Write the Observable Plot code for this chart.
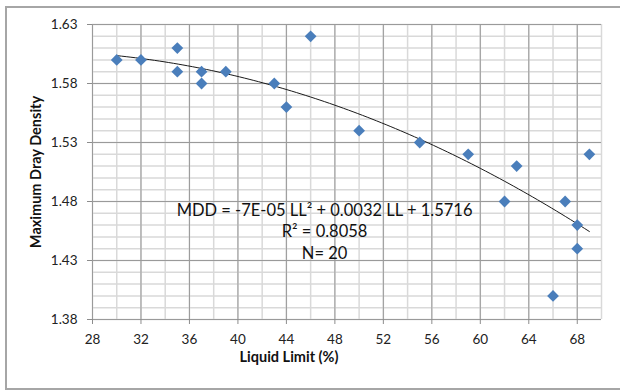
<!DOCTYPE html>
<html><head><meta charset="utf-8">
<script src="https://cdn.jsdelivr.net/npm/d3@7"></script>
<script src="https://cdn.jsdelivr.net/npm/@observablehq/plot@0.6"></script>
<style>
body{margin:0;background:#fff;}
#wrap{position:relative;width:620px;height:390px;overflow:hidden;}
#chart{position:absolute;left:0;top:0;}
#border{position:absolute;left:5px;top:6px;width:640px;height:384px;border:2px solid #a6a6a6;box-sizing:border-box;pointer-events:none;}
</style></head><body>
<div id="wrap"><div id="chart"></div><div id="border"></div></div>
<script>
// Data
const liquidLimit   = [30, 32, 35, 35, 37, 37, 39, 43, 44, 46, 50, 55, 59, 62, 63, 66, 67, 68, 68, 69];
const maxDryDensity = [1.60, 1.60, 1.61, 1.59, 1.59, 1.58, 1.59, 1.58, 1.56, 1.62, 1.54, 1.53, 1.52, 1.48, 1.51, 1.40, 1.48, 1.46, 1.44, 1.52];
const xTicks = [28, 32, 36, 40, 44, 48, 52, 56, 60, 64, 68];
const yTicks = [1.38, 1.43, 1.48, 1.53, 1.58, 1.63];
const xMinor = [28, 30, 32, 34, 36, 38, 40, 42, 44, 46, 48, 50, 52, 54, 56, 58, 60, 62, 64, 66, 68, 70];
const yMinor = [1.38,1.39,1.40,1.41,1.42,1.43,1.44,1.45,1.46,1.47,1.48,1.49,1.50,1.51,1.52,1.53,1.54,1.55,1.56,1.57,1.58,1.59,1.60,1.61,1.62,1.63];
const annotation = ["MDD = -7E-05 LL\u00B2 + 0.0032 LL + 1.5716", "R\u00B2 = 0.8058", "N= 20"];
const xTitle = "Liquid Limit (%)";
const yTitle = "Maximum Dray Density";

const points = liquidLimit.map((x, i) => ({x, y: maxDryDensity[i]}));

// Quadratic least-squares trendline fitted to the data
function quadFit(xs, ys) {
  const S = [0,0,0,0,0], T = [0,0,0];
  xs.forEach((x, i) => {
    for (let k = 0; k < 5; k++) S[k] += x ** k;
    for (let k = 0; k < 3; k++) T[k] += ys[i] * x ** k;
  });
  const A = [[S[0],S[1],S[2],T[0]],[S[1],S[2],S[3],T[1]],[S[2],S[3],S[4],T[2]]];
  for (let c = 0; c < 3; c++) {
    for (let r = c + 1; r < 3; r++) {
      const f = A[r][c] / A[c][c];
      for (let k = c; k < 4; k++) A[r][k] -= f * A[c][k];
    }
  }
  const b = [0,0,0];
  for (let r = 2; r >= 0; r--) {
    let s = A[r][3];
    for (let k = r + 1; k < 3; k++) s -= A[r][k] * b[k];
    b[r] = s / A[r][r];
  }
  return b;
}
const coef = quadFit(liquidLimit, maxDryDensity);
const xLo = d3.min(liquidLimit), xHi = d3.max(liquidLimit);
const trend = d3.range(0, 101).map(i => {
  const x = xLo + (xHi - xLo) * i / 100;
  return {x, y: coef[0] + coef[1] * x + coef[2] * x * x};
});

const font = "Lato, 'Open Sans', sans-serif";
const chart = Plot.plot({
  width: 620,
  height: 390,
  marginLeft: 92,
  marginRight: 19,
  marginTop: 24,
  marginBottom: 71,
  style: {background: "transparent", fontFamily: font, fontSize: "13.5px", color: "#222"},
  x: {domain: [28, 70]},
  y: {domain: [1.38, 1.63]},
  marks: [
    Plot.ruleX(xMinor, {stroke: "#d9d9d9", strokeWidth: 1.5}),
    Plot.ruleY(yMinor, {stroke: "#d9d9d9", strokeWidth: 1.5}),
    Plot.ruleX(xTicks, {stroke: "#9a9a9a", strokeWidth: 1}),
    Plot.ruleY(yTicks, {stroke: "#9a9a9a", strokeWidth: 1}),
    Plot.axisX({ticks: xTicks, tickSize: 5, tickPadding: 10, stroke: "#8c8c8c", strokeOpacity: 1, label: null, fill: "#222"}),
    Plot.axisY({ticks: yTicks, tickSize: 5, tickPadding: 10, stroke: "#8c8c8c", strokeOpacity: 1, label: null, fill: "#222", tickFormat: d3.format(".2f")}),
    Plot.line(trend, {x: "x", y: "y", stroke: "#1a1a1a", strokeWidth: 1}),
    Plot.dot(points, {x: "x", y: "y", symbol: "diamond2", r: 5.3, fill: "#4A7EBB", stroke: "none"}),
    Plot.text([annotation.join("\n")], {x: 47.15, y: 1.4555, lineAnchor: "middle", lineHeight: 1.29, fontSize: 16.5, fill: "#111", textAnchor: "middle"}),
    Plot.text([xTitle], {frameAnchor: "bottom", textAnchor: "middle", lineAnchor: "middle", dx: -58, dy: 38, fontWeight: "bold", fontSize: 14.5, fill: "#111"}),
    Plot.text([yTitle], {frameAnchor: "left", textAnchor: "middle", lineAnchor: "middle", dx: -56, rotate: -90, fontWeight: "bold", fontSize: 14.5, fill: "#111"})
  ]
});
document.getElementById("chart").appendChild(chart);
</script>
</body></html>
